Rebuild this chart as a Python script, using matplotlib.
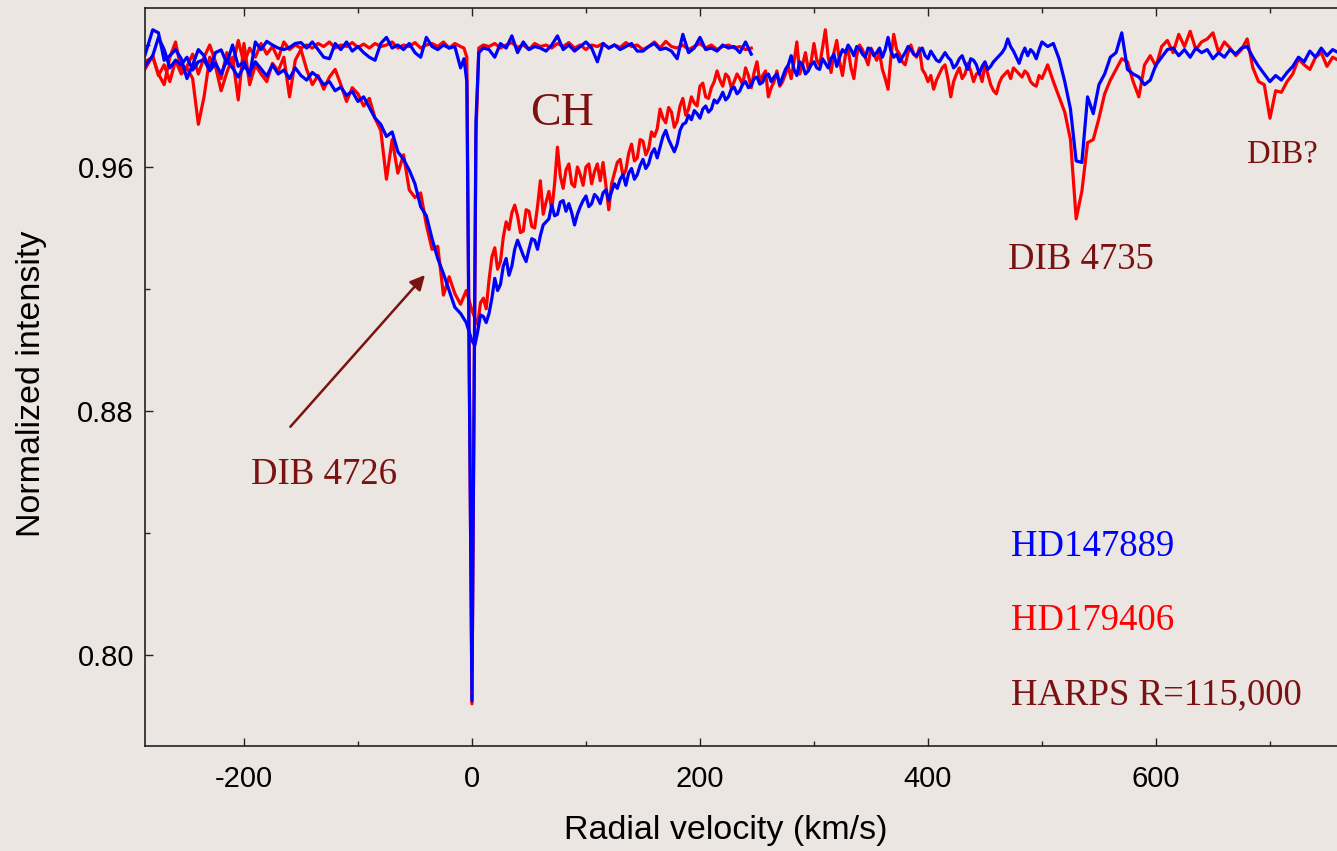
import matplotlib.pyplot as plt
from matplotlib.ticker import MultipleLocator

# DIB 4726 / DIB 4735 region (broad profiles), velocity in km/s
v_dib = [
    -287, -280, -275, -270, -265, -260, -255, -250, -245, -240,
    -235, -230, -225, -220, -215, -210, -205, -200, -195, -190,
    -185, -180, -175, -170, -165, -160, -155, -150, -145, -140,
    -135, -130, -125, -120, -115, -110, -105, -100, -95, -90,
    -85, -80, -75, -70, -65, -60, -55, -50, -45, -40,
    -35, -30, -25, -20, -15, -10, -5, 0, 5, 10,
    15, 20, 25, 30, 35, 40, 45, 50, 55, 60,
    65, 70, 75, 80, 85, 90, 95, 100, 105, 110,
    115, 120, 125, 130, 135, 140, 145, 150, 155, 160,
    165, 170, 175, 180, 185, 190, 195, 200, 205, 210,
    215, 220, 225, 230, 235, 240, 245, 250, 255, 260,
    265, 270, 275, 280, 285, 290, 295, 300, 305, 310,
    315, 320, 325, 330, 335, 340, 345, 350, 355, 360,
    365, 370, 375, 380, 385, 390, 395, 400, 405, 410,
    415, 420, 425, 430, 435, 440, 445, 450, 455, 460,
    465, 470, 475, 480, 485, 490, 495, 500, 505, 510,
    515, 520, 525, 530, 535, 540, 545, 550, 555, 560,
    565, 570, 575, 580, 585, 590, 595, 600, 605, 610,
    615, 620, 625, 630, 635, 640, 645, 650, 655, 660,
    665, 670, 675, 680, 685, 690, 695, 700, 705, 710,
    715, 720, 725, 730, 735, 740, 745, 750, 755, 760,
]

dib_hd147889 = [
    0.9930, 0.9965, 1.0025, 0.9985, 0.9925, 0.9950, 0.9935, 0.9960, 0.9918, 0.9945,
    0.9952, 0.9915, 0.9940, 0.9905, 0.9950, 0.9925, 0.9895, 0.9930, 0.9912, 0.9945,
    0.9922, 0.9898, 0.9935, 0.9905, 0.9918, 0.9890, 0.9925, 0.9900, 0.9885, 0.9910,
    0.9895, 0.9870, 0.9880, 0.9850, 0.9862, 0.9835, 0.9848, 0.9815, 0.9830, 0.9795,
    0.9760, 0.9740, 0.9700, 0.9715, 0.9650, 0.9625, 0.9590, 0.9545, 0.9470, 0.9440,
    0.9365, 0.9300, 0.9250, 0.9195, 0.9140, 0.9120, 0.9090, 0.9030, 0.9060, 0.9110,
    0.9120, 0.9235, 0.9215, 0.9300, 0.9275, 0.9360, 0.9310, 0.9330, 0.9360, 0.9375,
    0.9420, 0.9475, 0.9445, 0.9490, 0.9480, 0.9410, 0.9470, 0.9505, 0.9480, 0.9500,
    0.9515, 0.9490, 0.9545, 0.9560, 0.9540, 0.9595, 0.9575, 0.9625, 0.9610, 0.9660,
    0.9665, 0.9720, 0.9670, 0.9675, 0.9740, 0.9770, 0.9785, 0.9760, 0.9800, 0.9790,
    0.9810, 0.9845, 0.9830, 0.9862, 0.9850, 0.9880, 0.9868, 0.9895, 0.9878, 0.9905,
    0.9895, 0.9870, 0.9920, 0.9965, 0.9900, 0.9935, 0.9915, 0.9945, 0.9920, 0.9940,
    0.9955, 0.9930, 0.9985, 1.0000, 0.9965, 0.9990, 0.9960, 0.9985, 0.9975, 0.9960,
    1.0025, 0.9960, 0.9945, 0.9975, 0.9985, 0.9965, 0.9990, 0.9955, 0.9965, 0.9945,
    0.9975, 0.9950, 0.9935, 0.9965, 0.9920, 0.9950, 0.9905, 0.9945, 0.9930, 0.9955,
    0.9975, 1.0020, 0.9980, 0.9940, 0.9990, 0.9985, 0.9955, 1.0010, 0.9995, 1.0005,
    0.9955, 0.9880, 0.9790, 0.9620, 0.9615, 0.9830, 0.9775, 0.9870, 0.9905, 0.9960,
    0.9975, 1.0040, 0.9920, 0.9905, 0.9895, 0.9870, 0.9885, 0.9935, 0.9960, 0.9985,
    0.9990, 0.9965, 0.9985, 0.9960, 0.9990, 0.9975, 0.9985, 0.9955, 0.9975, 0.9960,
    0.9985, 0.9970, 0.9990, 0.9995, 0.9960, 0.9930, 0.9905, 0.9880, 0.9900, 0.9885,
    0.9910, 0.9930, 0.9960, 0.9945, 0.9980, 0.9960, 0.9990, 0.9965, 0.9985, 0.9975,
]

dib_hd179406 = [
    0.9920, 0.9965, 0.9900, 0.9935, 0.9880, 0.9950, 0.9905, 0.9925, 0.9890, 0.9740,
    0.9830, 0.9960, 0.9930, 0.9850, 0.9910, 0.9960, 0.9820, 1.0005, 0.9870, 0.9935,
    0.9905, 0.9880, 0.9940, 0.9915, 0.9960, 0.9830, 0.9950, 0.9985, 0.9920, 0.9870,
    0.9900, 0.9855, 0.9895, 0.9920, 0.9870, 0.9815, 0.9860, 0.9840, 0.9800, 0.9825,
    0.9760, 0.9720, 0.9560, 0.9690, 0.9580, 0.9640, 0.9525, 0.9500, 0.9515, 0.9410,
    0.9330, 0.9340, 0.9180, 0.9240, 0.9185, 0.9150, 0.9195, 0.9130, 0.9085, 0.9170,
    0.9230, 0.9335, 0.9290, 0.9420, 0.9450, 0.9440, 0.9390, 0.9455, 0.9400, 0.9555,
    0.9485, 0.9460, 0.9665, 0.9530, 0.9610, 0.9535, 0.9575, 0.9600, 0.9545, 0.9610,
    0.9615, 0.9460, 0.9580, 0.9625, 0.9590, 0.9675, 0.9630, 0.9685, 0.9660, 0.9700,
    0.9790, 0.9745, 0.9780, 0.9750, 0.9825, 0.9790, 0.9810, 0.9865, 0.9830, 0.9860,
    0.9915, 0.9865, 0.9895, 0.9880, 0.9890, 0.9925, 0.9860, 0.9945, 0.9900, 0.9830,
    0.9880, 0.9865, 0.9905, 0.9890, 1.0010, 0.9935, 0.9920, 1.0005, 0.9935, 1.0050,
    0.9910, 1.0015, 0.9900, 0.9985, 0.9890, 1.0000, 0.9960, 0.9990, 0.9950, 0.9920,
    0.9855, 1.0035, 0.9970, 0.9935, 1.0000, 0.9960, 0.9920, 0.9880, 0.9855, 0.9905,
    0.9935, 0.9830, 0.9905, 0.9890, 0.9940, 0.9880, 0.9910, 0.9935, 0.9870, 0.9840,
    0.9895, 0.9915, 0.9925, 0.9905, 0.9915, 0.9880, 0.9865, 0.9890, 0.9935, 0.9880,
    0.9830, 0.9780, 0.9690, 0.9430, 0.9520, 0.9680, 0.9690, 0.9760, 0.9840, 0.9885,
    0.9920, 0.9955, 0.9945, 0.9880, 0.9830, 0.9935, 0.9965, 0.9930, 0.9995, 1.0015,
    0.9975, 1.0035, 0.9995, 1.0045, 0.9985, 1.0010, 1.0020, 1.0040, 0.9975, 1.0010,
    0.9990, 0.9965, 0.9985, 1.0020, 0.9925, 0.9880, 0.9870, 0.9760, 0.9850, 0.9845,
    0.9880, 0.9905, 0.9955, 0.9935, 0.9920, 0.9960, 0.9975, 0.9930, 0.9960, 0.9950,
]

# extra samples between 0 and 500 km/s, where the noise is densest
v_dib_mid = [
    2.5, 7.5, 12.5, 17.5, 22.5, 27.5, 32.5, 37.5, 42.5, 47.5,
    52.5, 57.5, 62.5, 67.5, 72.5, 77.5, 82.5, 87.5, 92.5, 97.5,
    102.5, 107.5, 112.5, 117.5, 122.5, 127.5, 132.5, 137.5, 142.5, 147.5,
    152.5, 157.5, 162.5, 167.5, 172.5, 177.5, 182.5, 187.5, 192.5, 197.5,
    202.5, 207.5, 212.5, 217.5, 222.5, 227.5, 232.5, 237.5, 242.5, 247.5,
    252.5, 257.5, 262.5, 267.5, 272.5, 277.5, 282.5, 287.5, 292.5, 297.5,
    302.5, 307.5, 312.5, 317.5, 322.5, 327.5, 332.5, 337.5, 342.5, 347.5,
    352.5, 357.5, 362.5, 367.5, 372.5, 377.5, 382.5, 387.5, 392.5, 397.5,
    402.5, 407.5, 412.5, 417.5, 422.5, 427.5, 432.5, 437.5, 442.5, 447.5,
    452.5, 457.5, 462.5, 467.5, 472.5, 477.5, 482.5, 487.5, 492.5, 497.5,
]

dib_hd147889_mid = [
    0.9015, 0.9115, 0.9090, 0.9170, 0.9195, 0.9275, 0.9245, 0.9330, 0.9335, 0.9290,
    0.9365, 0.9330, 0.9410, 0.9430, 0.9440, 0.9485, 0.9455, 0.9450, 0.9445, 0.9490,
    0.9470, 0.9510, 0.9480, 0.9525, 0.9520, 0.9530, 0.9575, 0.9580, 0.9560, 0.9605,
    0.9595, 0.9645, 0.9630, 0.9700, 0.9690, 0.9650, 0.9720, 0.9745, 0.9755, 0.9775,
    0.9790, 0.9780, 0.9820, 0.9825, 0.9820, 0.9855, 0.9840, 0.9872, 0.9860, 0.9890,
    0.9872, 0.9900, 0.9880, 0.9905, 0.9895, 0.9935, 0.9920, 0.9945, 0.9905, 0.9935,
    0.9925, 0.9955, 0.9925, 0.9970, 0.9960, 0.9975, 0.9985, 0.9995, 0.9970, 0.9990,
    0.9965, 0.9990, 0.9985, 0.9980, 0.9970, 0.9960, 0.9995, 0.9970, 0.9980, 0.9965,
    0.9980, 0.9950, 0.9960, 0.9960, 0.9925, 0.9955, 0.9940, 0.9955, 0.9935, 0.9930,
    0.9920, 0.9945, 0.9965, 0.9990, 0.9995, 0.9960, 0.9970, 0.9965, 0.9975, 0.9985,
]

dib_hd179406_mid = [
    0.9105, 0.9155, 0.9135, 0.9305, 0.9265, 0.9370, 0.9395, 0.9475, 0.9385, 0.9460,
    0.9405, 0.9470, 0.9445, 0.9520, 0.9545, 0.9570, 0.9590, 0.9545, 0.9600, 0.9540,
    0.9610, 0.9585, 0.9555, 0.9540, 0.9545, 0.9615, 0.9570, 0.9645, 0.9620, 0.9690,
    0.9640, 0.9715, 0.9725, 0.9760, 0.9795, 0.9730, 0.9800, 0.9770, 0.9830, 0.9800,
    0.9875, 0.9825, 0.9880, 0.9885, 0.9905, 0.9860, 0.9905, 0.9870, 0.9900, 0.9910,
    0.9880, 0.9915, 0.9860, 0.9915, 0.9880, 0.9930, 0.9945, 0.9905, 0.9975, 0.9945,
    0.9950, 0.9990, 0.9960, 0.9975, 0.9945, 0.9965, 0.9925, 0.9965, 0.9985, 0.9935,
    0.9970, 0.9975, 0.9890, 0.9960, 0.9985, 0.9945, 0.9975, 0.9970, 0.9990, 0.9905,
    0.9900, 0.9885, 0.9925, 0.9890, 0.9880, 0.9925, 0.9905, 0.9915, 0.9905, 0.9880,
    0.9905, 0.9850, 0.9875, 0.9905, 0.9890, 0.9915, 0.9895, 0.9905, 0.9870, 0.9900,
]

# CH 4300 line, same velocity frame, narrow and deep at v = 0
v_ch = [
    -287, -280, -275, -270, -265, -260, -255, -250, -245, -240,
    -235, -230, -225, -220, -215, -210, -205, -200, -195, -190,
    -185, -180, -175, -170, -165, -160, -155, -150, -145, -140,
    -135, -130, -125, -120, -115, -110, -105, -100, -95, -90,
    -85, -80, -75, -70, -65, -60, -55, -50, -45, -40,
    -35, -30, -25, -20, -15, -10, -7, -4.5, 0, 3.5,
    6, 10, 15, 20, 25, 30, 35, 40, 45, 50,
    55, 60, 65, 70, 75, 80, 85, 90, 95, 100,
    105, 110, 115, 120, 125, 130, 135, 140, 145, 150,
    155, 160, 165, 170, 175, 180, 185, 190, 195, 200,
    205, 210, 215, 220, 225, 230, 235, 240, 245,
]

ch_hd147889 = [
    0.9965, 1.0050, 1.0040, 0.9950, 0.9965, 0.9985, 0.9955, 0.9890, 0.9935, 0.9985,
    0.9965, 0.9918, 0.9975, 0.9984, 0.9940, 1.0000, 0.9930, 0.9945, 0.9900, 1.0010,
    0.9985, 1.0012, 1.0000, 0.9990, 0.9985, 0.9992, 1.0005, 1.0008, 0.9990, 1.0010,
    0.9985, 0.9960, 0.9955, 1.0005, 0.9985, 1.0010, 0.9980, 0.9995, 0.9975, 0.9960,
    0.9950, 1.0005, 1.0025, 0.9990, 1.0000, 0.9985, 1.0005, 0.9975, 0.9960, 1.0025,
    0.9995, 0.9985, 1.0000, 0.9990, 0.9995, 0.9925, 0.9955, 0.9880, 0.7850, 0.9750,
    0.9975, 0.9990, 0.9985, 0.9960, 1.0005, 0.9990, 1.0030, 0.9975, 1.0010, 0.9985,
    0.9995, 0.9990, 0.9980, 1.0000, 1.0030, 0.9985, 1.0000, 0.9980, 0.9995, 1.0010,
    0.9990, 0.9945, 1.0005, 0.9990, 1.0000, 0.9985, 0.9995, 1.0005, 0.9980, 0.9980,
    0.9995, 1.0005, 0.9985, 0.9990, 0.9980, 0.9955, 1.0035, 0.9975, 0.9990, 1.0025,
    0.9985, 0.9990, 0.9980, 1.0000, 0.9990, 0.9995, 0.9975, 1.0010, 0.9970,
]

ch_hd179406 = [
    0.9945, 0.9960, 0.9905, 0.9870, 0.9960, 1.0010, 0.9915, 0.9930, 0.9970, 0.9905,
    0.9960, 1.0000, 0.9945, 0.9890, 0.9975, 0.9930, 1.0015, 0.9940, 0.9990, 0.9960,
    1.0005, 0.9970, 0.9995, 0.9955, 1.0010, 0.9985, 1.0000, 0.9990, 1.0000, 0.9990,
    1.0005, 0.9995, 1.0010, 0.9990, 1.0000, 0.9995, 1.0008, 0.9992, 1.0003, 0.9990,
    1.0005, 0.9995, 1.0000, 1.0010, 0.9990, 1.0000, 0.9995, 1.0008, 0.9990, 1.0000,
    1.0005, 0.9995, 1.0010, 0.9990, 1.0005, 0.9995, 0.9990, 0.9960, 0.7840, 0.9700,
    0.9990, 1.0000, 0.9995, 1.0005, 0.9990, 1.0000, 1.0008, 0.9992, 1.0000, 0.9985,
    1.0005, 0.9995, 1.0000, 0.9990, 1.0005, 0.9995, 1.0008, 0.9990, 1.0000, 0.9985,
    1.0000, 0.9995, 1.0005, 0.9990, 1.0000, 0.9992, 1.0008, 0.9995, 1.0000, 0.9985,
    0.9995, 1.0010, 0.9990, 1.0012, 0.9995, 0.9990, 1.0000, 0.9985, 0.9995, 1.0005,
    0.9990, 1.0000, 0.9985, 0.9995, 1.0000, 0.9990, 0.9995, 0.9985, 0.9990,
]

BG = "#ebe6e2"
DARK_RED = "#7a1212"
RED = "#ff0000"
BLUE = "#0000ff"

plt.rcParams["font.family"] = ["Liberation Sans", "DejaVu Sans"]
plt.rcParams["axes.unicode_minus"] = False

# merge the coarse and the extra samples into one ordered spectrum
merged = sorted(zip(v_dib + v_dib_mid,
                    dib_hd147889 + dib_hd147889_mid,
                    dib_hd179406 + dib_hd179406_mid))
v_all = [m[0] for m in merged]
blue_all = [m[1] for m in merged]
red_all = [m[2] for m in merged]

fig = plt.figure(figsize=(13.37, 8.51), dpi=100, facecolor=BG)
ax = fig.add_axes([0.10845, 0.12338, 0.89155, 0.8672])
ax.set_facecolor(BG)

lw = 2.3
ax.plot(v_all, red_all, color=RED, lw=lw)
ax.plot(v_ch, ch_hd179406, color=RED, lw=lw)
ax.plot(v_all, blue_all, color=BLUE, lw=lw)
ax.plot(v_ch, ch_hd147889, color=BLUE, lw=lw)

ax.set_xlim(-286.8, 758.8)
ax.set_ylim(0.77016, 1.01213)

ax.xaxis.set_major_locator(MultipleLocator(200))
ax.xaxis.set_minor_locator(MultipleLocator(100))
ax.yaxis.set_major_locator(MultipleLocator(0.08))
ax.yaxis.set_minor_locator(MultipleLocator(0.04))
ax.yaxis.set_major_formatter(plt.FormatStrFormatter("%.2f"))

ax.spines["right"].set_visible(False)
for side in ("left", "bottom", "top"):
    ax.spines[side].set_linewidth(1.2)
    ax.spines[side].set_color("#222222")
ax.tick_params(which="both", direction="in", top=True, right=False,
               color="#222222", width=1.0)
ax.tick_params(which="major", length=6)
ax.tick_params(which="minor", length=3.5)
ax.tick_params(axis="x", which="major", labelsize=21, pad=14)
ax.tick_params(axis="y", which="major", labelsize=21, pad=8)

ax.set_xlabel("Radial velocity (km/s)", fontsize=24.5, va="center")
ax.xaxis.set_label_coords(0.4874, -0.114)
ax.set_ylabel("Normalized intensity", fontsize=24.5, va="center")
ax.yaxis.set_label_coords(-0.0948, 0.4905)

serif = ["Liberation Serif", "DejaVu Serif"]
ax.text(79, 0.9774, "CH", color=DARK_RED, fontsize=33, family=serif,
        ha="center", va="center")
ax.text(534, 0.9295, "DIB 4735", color=DARK_RED, fontsize=26.5, family=serif,
        ha="center", va="center")
ax.text(710.5, 0.9639, "DIB?", color=DARK_RED, fontsize=23.5, family=serif,
        ha="center", va="center")
ax.text(472.8, 0.8354, "HD147889", color=BLUE, fontsize=26.5, family=serif,
        ha="left", va="center")
ax.text(472.8, 0.8111, "HD179406", color=RED, fontsize=26.5, family=serif,
        ha="left", va="center")
ax.text(472.8, 0.7869, "HARPS R=115,000", color=DARK_RED, fontsize=26.5,
        family=serif, ha="left", va="center")
ax.annotate("DIB 4726", xy=(-41.2, 0.9246), xytext=(-129.8, 0.859),
            color=DARK_RED, fontsize=26.5, family=serif, ha="center", va="center",
            arrowprops=dict(arrowstyle="-|>", color=DARK_RED, lw=1.8,
                            mutation_scale=22, shrinkA=0, shrinkB=0,
                            patchA=None, relpos=(0.27, 1.9)))

fig.savefig("out.png", dpi=100, facecolor=BG)
